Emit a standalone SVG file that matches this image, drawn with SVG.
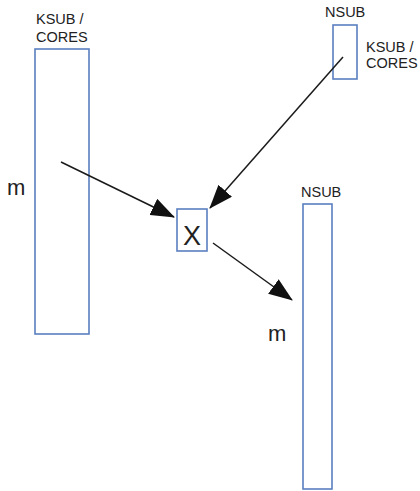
<svg xmlns="http://www.w3.org/2000/svg" width="420" height="491" viewBox="0 0 420 491">
<defs>
<style>
.box{fill:#ffffff;stroke:#5a7fc0;stroke-width:1.6}
.lbl{font-family:"Liberation Sans",Arial,sans-serif;font-size:14.5px;fill:#222222}
.big{font-family:"Liberation Sans",Arial,sans-serif;font-size:22px;fill:#222222}
.edge{stroke:#1a1a1a;stroke-width:1.5;fill:none;marker-end:url(#ah)}
</style>
<marker id="ah" markerUnits="userSpaceOnUse" markerWidth="24" markerHeight="18" viewBox="0 0 24 18" refX="23" refY="9" orient="auto">
<path d="M0,0 L24,9 L0,18 Z" fill="#111111"/>
</marker>
</defs>
<rect width="420" height="491" fill="#ffffff"/>
<g id="node-a">
<rect class="box" x="35" y="49" width="54" height="285"/>
<text class="lbl" x="36" y="24">KSUB /</text>
<text class="lbl" x="36" y="42">CORES</text>
<text class="big" x="7" y="195">m</text>
</g>
<g id="node-b">
<rect class="box" x="333" y="25" width="24" height="54"/>
<text class="lbl" x="325" y="17">NSUB</text>
<text class="lbl" x="366" y="52">KSUB /</text>
<text class="lbl" x="366" y="68">CORES</text>
</g>
<g id="node-x">
<rect class="box" x="177" y="209" width="30" height="42"/>
<text x="192" y="245" text-anchor="middle" style="font-family:'Liberation Sans',Arial,sans-serif;font-size:27px;fill:#222222">X</text>
</g>
<g id="node-c">
<rect class="box" x="303" y="204" width="29" height="285"/>
<text class="lbl" x="301" y="197">NSUB</text>
<text class="big" x="268" y="341">m</text>
</g>
<g id="connectors">
<line class="edge" x1="61" y1="162" x2="174" y2="217"/>
<line class="edge" x1="343" y1="57" x2="210" y2="208"/>
<line class="edge" x1="213" y1="243" x2="292" y2="300"/>
</g>
</svg>
